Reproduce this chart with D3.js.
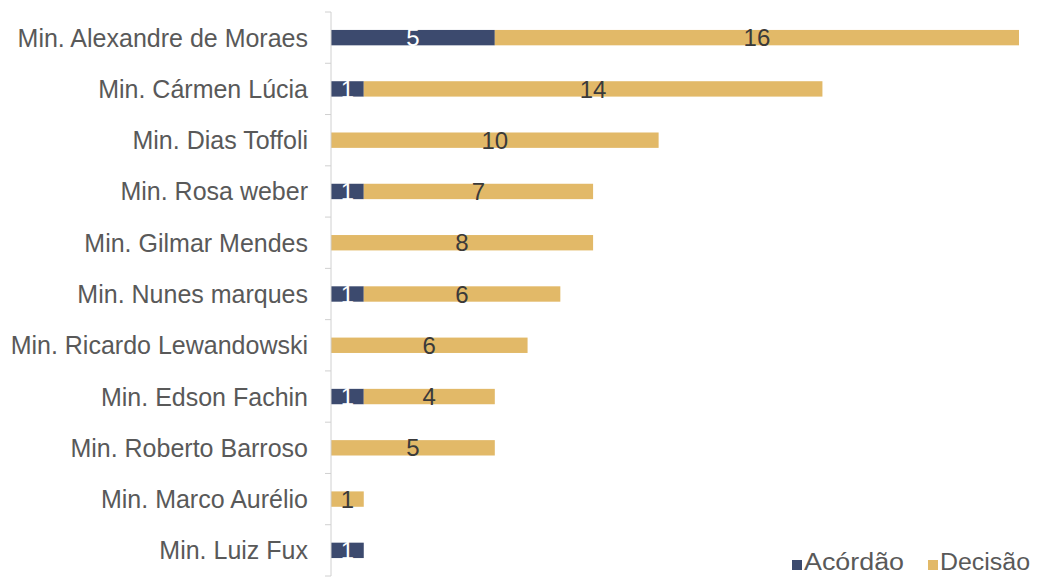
<!DOCTYPE html>
<html>
<head>
<meta charset="utf-8">
<script src="https://cdn.jsdelivr.net/npm/d3@7"></script>
<style>
  body { margin: 0; background: #fff; }
  text { font-family: "Liberation Sans", Arial, sans-serif; }
</style>
</head>
<body>
<div id="chart"></div>
<script>
// data
const ministros = ["Min. Alexandre de Moraes", "Min. Cármen Lúcia", "Min. Dias Toffoli",
  "Min. Rosa weber", "Min. Gilmar Mendes", "Min. Nunes marques", "Min. Ricardo Lewandowski",
  "Min. Edson Fachin", "Min. Roberto Barroso", "Min. Marco Aurélio", "Min. Luiz Fux"];
const acordao = [5, 1, 0, 1, 0, 1, 0, 1, 0, 0, 1];
const decisao = [16, 14, 10, 7, 8, 6, 6, 4, 5, 1, 0];
const series = ["Acórdão", "Decisão"];

const width = 1041, height = 577;
const margin = {top: 12, right: 22, bottom: 1, left: 331};
const colors = ["#3c4a6e", "#e2b968"];

const svg = d3.select("#chart").append("svg")
  .attr("width", width)
  .attr("height", height);

const rows = ministros.map((m, i) => ({name: m, "Acórdão": acordao[i], "Decisão": decisao[i]}));
const stacked = d3.stack().keys(series)(rows);

const x = d3.scaleLinear()
  .domain([0, 21])
  .range([margin.left, 1019]);

const y = d3.scaleBand()
  .domain(ministros)
  .range([margin.top, height - margin.bottom])
  .paddingInner(0.7)
  .paddingOuter(0.35);

// bars
const groups = svg.selectAll("g.serie")
  .data(stacked)
  .enter()
  .append("g")
  .attr("class", "serie")
  .attr("fill", (d, i) => colors[i]);

groups.selectAll("rect")
  .data(d => d.filter(s => s[1] - s[0] > 0))
  .enter()
  .append("rect")
  .attr("x", d => x(d[0]))
  .attr("y", d => y(d.data.name))
  .attr("width", d => x(d[1]) - x(d[0]))
  .attr("height", y.bandwidth());

// value labels
stacked.forEach(function(s, i) {
  svg.append("g").selectAll("text")
    .data(s.filter(d => d[1] - d[0] > 0))
    .enter()
    .append("text")
    .attr("x", d => (x(d[0]) + x(d[1])) / 2)
    .attr("y", d => y(d.data.name) + y.bandwidth() / 2)
    .attr("dy", "0.36em")
    .attr("text-anchor", "middle")
    .attr("font-size", 24)
    .attr("fill", i === 0 ? "#ffffff" : "#3a3a3a")
    .text(d => d[1] - d[0]);
});

// y axis
const yAxis = svg.append("g")
  .attr("transform", `translate(${margin.left},0)`);

yAxis.append("line")
  .attr("x1", 0).attr("x2", 0)
  .attr("y1", margin.top).attr("y2", height - margin.bottom)
  .attr("stroke", "#d0d0d0");

const bounds = d3.range(ministros.length + 1).map(i => margin.top + i * (height - margin.top - margin.bottom) / ministros.length);
yAxis.selectAll("line.tick")
  .data(bounds)
  .enter()
  .append("line")
  .attr("class", "tick")
  .attr("x1", -6).attr("x2", 0)
  .attr("y1", d => d).attr("y2", d => d)
  .attr("stroke", "#d0d0d0");

yAxis.selectAll("text")
  .data(ministros)
  .enter()
  .append("text")
  .attr("x", -23)
  .attr("y", d => y(d) + y.bandwidth() / 2)
  .attr("dy", "0.36em")
  .attr("text-anchor", "end")
  .attr("font-size", 25)
  .attr("fill", "#595959")
  .text(d => d);

// legend
const legend = svg.append("g");
const legendX = [792, 928];
series.forEach(function(s, i) {
  legend.append("rect")
    .attr("x", legendX[i]).attr("y", 560)
    .attr("width", 10).attr("height", 10)
    .attr("fill", colors[i]);
  legend.append("text")
    .attr("x", legendX[i] + 12).attr("y", 570)
    .attr("font-size", 23)
    .attr("textLength", i === 0 ? 100 : 90)
    .attr("lengthAdjust", "spacingAndGlyphs")
    .attr("fill", "#595959")
    .text(s);
});
</script>
</body>
</html>
